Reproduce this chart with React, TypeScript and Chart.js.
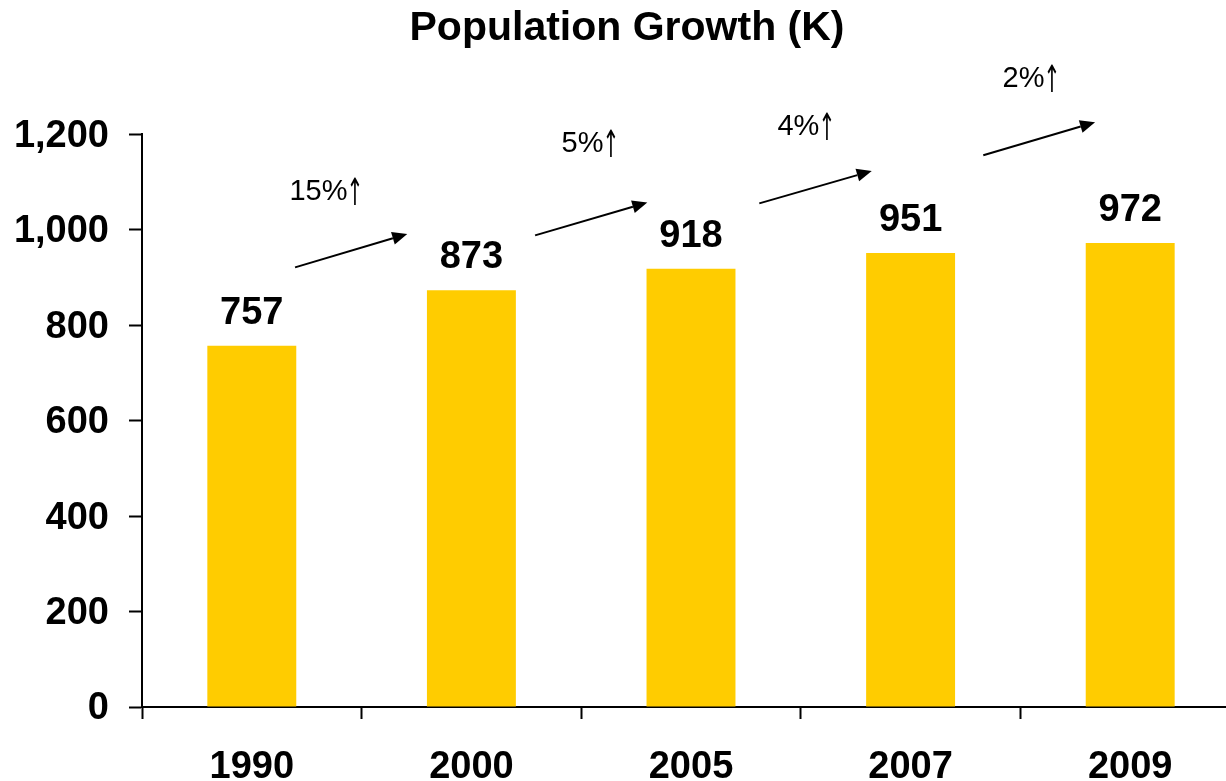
import React, { useEffect, useRef } from 'react';
import { Chart, registerables } from 'chart.js';

Chart.register(...registerables);

// ---- Data ----
const categories = ['1990', '2000', '2005', '2007', '2009'];
const population = [757, 873, 918, 951, 972];
const yMin = 0;
const yMax = 1200;
const yStep = 200;

// Growth annotations (in data coordinates: category index, value)
const growthLabels = ['15%↑', '5%↑', '4%↑', '2%↑'];
const growthLabelX = [0.342, 1.545, 2.528, 3.553];
const growthLabelY = [1063, 1163, 1198, 1299];
const arrowStartX = [0.197, 1.29, 2.311, 3.331];
const arrowStartY = [921, 988, 1055, 1156];
const arrowEndX = [0.708, 1.801, 2.823, 3.84];
const arrowEndY = [991, 1057, 1123, 1225];

const FONT = '"Liberation Sans", Arial, Helvetica, sans-serif';
const ARROW_FONT = '"DejaVu Sans", sans-serif';

const overlayPlugin = {
  id: 'overlay',
  afterDatasetsDraw(chart: any) {
    const { ctx } = chart;
    const xs = chart.scales.x;
    const ys = chart.scales.y;
    const meta = chart.getDatasetMeta(0);
    ctx.save();
    ctx.fillStyle = '#000';
    ctx.strokeStyle = '#000';
    // value labels
    ctx.font = `bold 38px ${FONT}`;
    ctx.textAlign = 'center';
    ctx.textBaseline = 'alphabetic';
    meta.data.forEach((bar: any, i: number) => {
      ctx.fillText(String(population[i]), bar.x, bar.y - 22);
    });
    // arrows
    ctx.lineWidth = 2;
    for (let i = 0; i < arrowStartX.length; i++) {
      const x1 = xs.getPixelForValue(arrowStartX[i]);
      const y1 = ys.getPixelForValue(arrowStartY[i]);
      const x2 = xs.getPixelForValue(arrowEndX[i]);
      const y2 = ys.getPixelForValue(arrowEndY[i]);
      const ang = Math.atan2(y2 - y1, x2 - x1);
      const headLen = 15;
      const headHalf = 6.5;
      const bx = x2 - headLen * Math.cos(ang);
      const by = y2 - headLen * Math.sin(ang);
      ctx.beginPath();
      ctx.moveTo(x1, y1);
      ctx.lineTo(bx, by);
      ctx.stroke();
      ctx.beginPath();
      ctx.moveTo(x2, y2);
      ctx.lineTo(bx + headHalf * Math.sin(ang), by - headHalf * Math.cos(ang));
      ctx.lineTo(bx - headHalf * Math.sin(ang), by + headHalf * Math.cos(ang));
      ctx.closePath();
      ctx.fill();
    }
    // growth labels: number part + arrow glyph (arrow in a font with a tall arrow)
    ctx.textBaseline = 'alphabetic';
    ctx.textAlign = 'left';
    for (let i = 0; i < growthLabels.length; i++) {
      const label = growthLabels[i];
      const main = label.slice(0, -1);
      const arrow = label.slice(-1);
      ctx.font = `29px ${FONT}`;
      const wMain = ctx.measureText(main).width;
      ctx.font = `29px ${ARROW_FONT}`;
      const wArrow = ctx.measureText(arrow).width * 0.7;
      const total = wMain + wArrow;
      const cx = xs.getPixelForValue(growthLabelX[i]);
      const by = ys.getPixelForValue(growthLabelY[i]);
      const left = cx - total / 2;
      ctx.font = `29px ${FONT}`;
      ctx.fillText(main, left, by);
      ctx.font = `29px ${ARROW_FONT}`;
      ctx.save();
      ctx.translate(left + wMain - 1, by + 5);
      ctx.scale(0.7, 1.3);
      ctx.fillText(arrow, 0, 0);
      ctx.restore();
    }
    ctx.restore();
  },
};

export default function App() {
  const canvasRef = useRef<HTMLCanvasElement | null>(null);

  useEffect(() => {
    const canvas = canvasRef.current;
    if (!canvas) return;
    Chart.defaults.font.family = FONT;
    const chart = new Chart(canvas, {
      type: 'bar',
      data: {
        labels: categories,
        datasets: [
          {
            data: population,
            backgroundColor: '#FFCC00',
            borderWidth: 0,
            barPercentage: 0.405,
            categoryPercentage: 1,
          },
        ],
      },
      options: {
        responsive: false,
        animation: false,
        devicePixelRatio: 1,
        layout: { padding: { left: 14, right: 14, top: 0, bottom: 0 } },
        plugins: {
          legend: { display: false },
          tooltip: { enabled: false },
          title: {
            display: true,
            text: 'Population Growth (K)',
            color: '#000',
            font: { size: 41, weight: 'bold', family: FONT },
            padding: { top: 4, bottom: 81 },
          },
        },
        scales: {
          x: {
            offset: true,
            grid: {
              offset: true,
              drawOnChartArea: false,
              drawTicks: true,
              tickLength: 12,
              tickColor: '#000',
              tickWidth: 2,
              color: '#000',
            },
            border: { display: true, color: '#000', width: 2 },
            ticks: {
              color: '#000',
              font: { size: 38, weight: 'bold', family: FONT },
              padding: 26,
              maxRotation: 0,
            },
            afterFit: (scale: any) => {
              scale.height = 74;
            },
          },
          y: {
            min: yMin,
            max: yMax,
            grid: {
              drawOnChartArea: false,
              drawTicks: true,
              tickLength: 13,
              tickColor: '#000',
              tickWidth: 2,
              color: '#000',
            },
            border: { display: true, color: '#000', width: 2 },
            ticks: {
              stepSize: yStep,
              color: '#000',
              font: { size: 38, weight: 'bold', family: FONT },
              padding: 20,
              labelOffset: 2,
              callback: (v: any) => Number(v).toLocaleString('en-US'),
            },
            afterFit: (scale: any) => {
              scale.width = 128;
            },
          },
        },
      },
      plugins: [overlayPlugin],
    });
    return () => chart.destroy();
  }, []);

  return (
    <div
      style={{
        position: 'fixed',
        left: 0,
        top: 0,
        width: 1226,
        height: 781,
        overflow: 'hidden',
        background: '#fff',
      }}
    >
      <canvas
        ref={canvasRef}
        width={1254}
        height={781}
        style={{ width: 1254, height: 781, display: 'block' }}
      />
    </div>
  );
}
